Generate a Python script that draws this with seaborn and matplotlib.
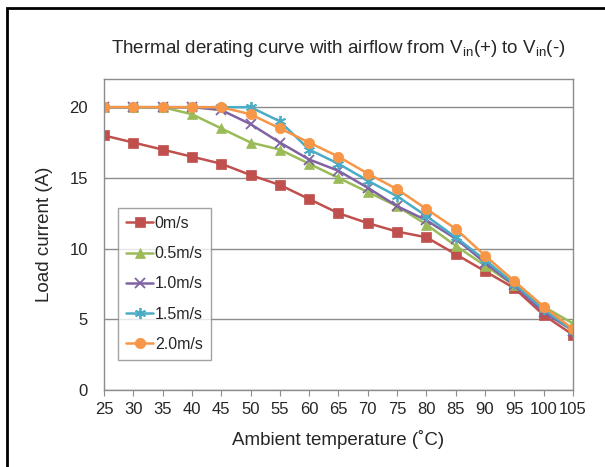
import matplotlib.pyplot as plt
from matplotlib.patches import Rectangle
import numpy as np
import pandas as pd
import seaborn as sns

temps = [25, 30, 35, 40, 45, 50, 55, 60, 65, 70, 75, 80, 85, 90, 95, 100, 105]
speeds = ["0m/s", "0.5m/s", "1.0m/s", "1.5m/s", "2.0m/s"]
i_00 = [18, 17.5, 17, 16.5, 16, 15.2, 14.5, 13.5, 12.5, 11.8, 11.2, 10.8, 9.6, 8.4, 7.2, 5.3, 3.9]
i_05 = [20, 20, 20, 19.5, 18.5, 17.5, 17, 16, 15, 14, 13, 11.7, 10.2, 8.8, 7.4, 5.9, 4.7]
i_10 = [20, 20, 20, 20, 19.8, 18.8, 17.5, 16.3, 15.5, 14.3, 13, 12, 10.7, 9, 7.4, 5.5, 4.2]
i_15 = [20, 20, 20, 20, 20, 20, 19, 17, 16, 14.8, 13.7, 12.3, 10.8, 9.2, 7.5, 5.7, 4.2]
i_20 = [20, 20, 20, 20, 20, 19.5, 18.5, 17.5, 16.5, 15.3, 14.2, 12.8, 11.4, 9.5, 7.7, 5.9, 4.3]
series = [i_00, i_05, i_10, i_15, i_20]

colors = ["#C0504D", "#9BBB59", "#8064A2", "#4BACC6", "#F79646"]
markers = ["s", "^", "x", (6, 2, 0), "o"]
msizes = [7, 7, 6.5, 8, 7.5]

sns.set_style("white")
plt.rcParams["font.family"] = ["Liberation Sans", "DejaVu Sans"]
plt.rcParams["mathtext.default"] = "regular"

fig = plt.figure(figsize=(6.05, 4.67), dpi=100)
ax = fig.add_axes([0.172, 0.165, 0.775, 0.666])

for lab, vals, c, m, ms in zip(speeds, series, colors, markers, msizes):
    sns.lineplot(x=temps, y=vals, ax=ax, color=c, marker=m, markersize=ms,
                 markeredgecolor=c, markeredgewidth=1.3 if m in ("x", (6, 2, 0)) else 0.5,
                 linewidth=1.8, label=lab)

ax.set_xlim(25, 105)
ax.set_ylim(0, 22)
ax.set_xticks(temps)
ax.set_yticks([0, 5, 10, 15, 20])
ax.grid(axis="y", color="#8c8c8c", linewidth=1)
ax.set_axisbelow(True)
for s in ax.spines.values():
    s.set_color("#8c8c8c")
    s.set_linewidth(1)
ax.tick_params(axis="x", which="both", bottom=True, length=4, color="#8c8c8c",
               labelsize=12, pad=5)
ax.tick_params(axis="y", left=False, labelsize=12, pad=8)

ax.set_xlabel("Ambient temperature (\u02daC)", fontsize=13.5, labelpad=9)
ax.set_ylabel("Load current (A)", fontsize=13.5, labelpad=12)
ax.set_title("Thermal derating curve with airflow from V$_{in}$(+) to V$_{in}$(-)",
             fontsize=13.5, pad=19)

leg = ax.legend(loc="upper left", bbox_to_anchor=(0.03, 0.585), borderaxespad=0,
                frameon=True, fancybox=False, fontsize=11.5, handlelength=1.7,
                handletextpad=0.1, labelspacing=0.95, borderpad=0.5)
leg.get_frame().set_edgecolor("#8c8c8c")
leg.get_frame().set_linewidth(1)

fig.patches.append(Rectangle((0.012, -0.1), 1.2, 1.083, transform=fig.transFigure,
                             fill=False, edgecolor="black", linewidth=2))

fig.savefig("out.png", dpi=100)
